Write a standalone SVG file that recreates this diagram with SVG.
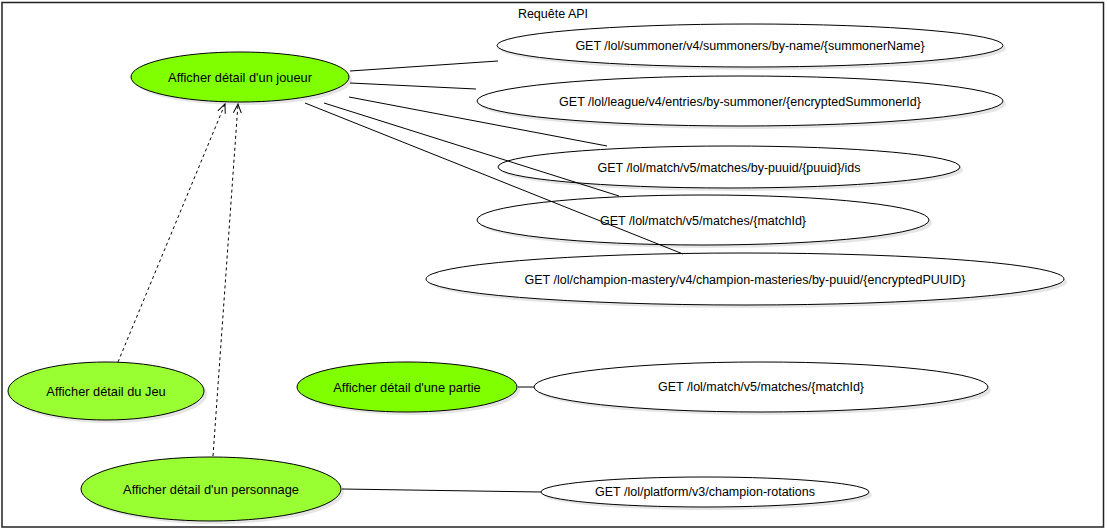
<svg xmlns="http://www.w3.org/2000/svg" width="1107" height="531" viewBox="0 0 1107 531">
<style>
text{font-family:"Liberation Sans",Arial,sans-serif;font-size:12.5px;fill:#000;text-anchor:middle;dominant-baseline:central}
text.g{font-size:12.8px}
.uc{stroke:#000;stroke-width:1}
.api{fill:#fff}
.main{fill:#80ff00}
.alt{fill:#99ff33}
.sh{fill:#000;opacity:0.1}
.ln{stroke:#000;stroke-width:1;fill:none}
.dash{stroke:#000;stroke-width:1;fill:none;stroke-dasharray:3 3}
</style>
<defs>
<marker id="open" markerWidth="12" markerHeight="12" refX="9" refY="5" orient="auto" markerUnits="userSpaceOnUse" viewBox="0 0 12 10">
<path d="M0,1 L9,5 L0,9" fill="none" stroke="#000" stroke-width="1"/>
</marker>
</defs>
<rect x="0" y="0" width="1107" height="531" fill="#fff"/>
<g id="frame">
<rect x="2" y="2.5" width="1101.5" height="524.5" fill="#fff" stroke="#222" stroke-width="1.5"/>
<text x="553" y="14">Requête API</text>
</g>
<g id="joueur">
<ellipse class="sh" cx="243" cy="80" rx="109" ry="25"/>
<ellipse class="uc main" cx="240" cy="77" rx="109" ry="25"/>
<text class="g" x="240" y="77">Afficher détail d'un joueur</text>
</g>
<g id="summoner">
<ellipse class="sh" cx="753" cy="48.5" rx="253" ry="21.5"/>
<ellipse class="uc api" cx="750" cy="45.5" rx="253" ry="21.5"/>
<text x="750" y="45.5">GET /lol/summoner/v4/summoners/by-name/{summonerName}</text>
</g>
<g id="league">
<ellipse class="sh" cx="743" cy="104" rx="263" ry="25"/>
<ellipse class="uc api" cx="740" cy="101" rx="263" ry="25"/>
<text x="740" y="102">GET /lol/league/v4/entries/by-summoner/{encryptedSummonerId}</text>
</g>
<g id="matchids">
<ellipse class="sh" cx="732" cy="170" rx="231" ry="21"/>
<ellipse class="uc api" cx="729" cy="167" rx="231" ry="21"/>
<text x="729" y="168">GET /lol/match/v5/matches/by-puuid/{puuid}/ids</text>
</g>
<g id="matchid">
<ellipse class="sh" cx="706" cy="223" rx="226" ry="25"/>
<ellipse class="uc api" cx="703" cy="220" rx="226" ry="25"/>
<text x="703" y="221">GET /lol/match/v5/matches/{matchId}</text>
</g>
<g id="mastery">
<ellipse class="sh" cx="748" cy="282" rx="319" ry="26"/>
<ellipse class="uc api" cx="745" cy="279" rx="319" ry="26"/>
<text x="745" y="280">GET /lol/champion-mastery/v4/champion-masteries/by-puuid/{encryptedPUUID}</text>
</g>
<g id="jeu">
<ellipse class="sh" cx="109" cy="394" rx="98" ry="29"/>
<ellipse class="uc alt" cx="106" cy="391" rx="98" ry="29"/>
<text class="g" x="106" y="391">Afficher détail du Jeu</text>
</g>
<g id="partie">
<ellipse class="sh" cx="410" cy="390" rx="110" ry="25"/>
<ellipse class="uc main" cx="407" cy="387" rx="110" ry="25"/>
<text class="g" x="407" y="387">Afficher détail d'une partie</text>
</g>
<g id="matchid2">
<ellipse class="sh" cx="764" cy="390" rx="227" ry="25"/>
<ellipse class="uc api" cx="761" cy="387" rx="227" ry="25"/>
<text x="761" y="387">GET /lol/match/v5/matches/{matchId}</text>
</g>
<g id="personnage">
<ellipse class="sh" cx="214" cy="492" rx="130" ry="32"/>
<ellipse class="uc alt" cx="211" cy="489" rx="130" ry="32"/>
<text class="g" x="211" y="489">Afficher détail d'un personnage</text>
</g>
<g id="rotations">
<ellipse class="sh" cx="708" cy="495" rx="164" ry="15"/>
<ellipse class="uc api" cx="705" cy="492" rx="164" ry="15"/>
<text x="705" y="492">GET /lol/platform/v3/champion-rotations</text>
</g>
<g id="connectors">
<line class="ln" x1="350" y1="71" x2="498" y2="61"/>
<line class="ln" x1="350" y1="83" x2="476" y2="89"/>
<line class="ln" x1="349" y1="97" x2="607" y2="146"/>
<line class="ln" x1="324" y1="103" x2="619" y2="196"/>
<line class="ln" x1="305" y1="103" x2="683" y2="254"/>
<line class="ln" x1="518" y1="387" x2="534" y2="387"/>
<line class="ln" x1="342" y1="489" x2="541" y2="492"/>
<line class="dash" x1="118" y1="362" x2="225" y2="104" marker-end="url(#open)"/>
<line class="dash" x1="213" y1="456" x2="238" y2="104" marker-end="url(#open)"/>
</g>
</svg>
